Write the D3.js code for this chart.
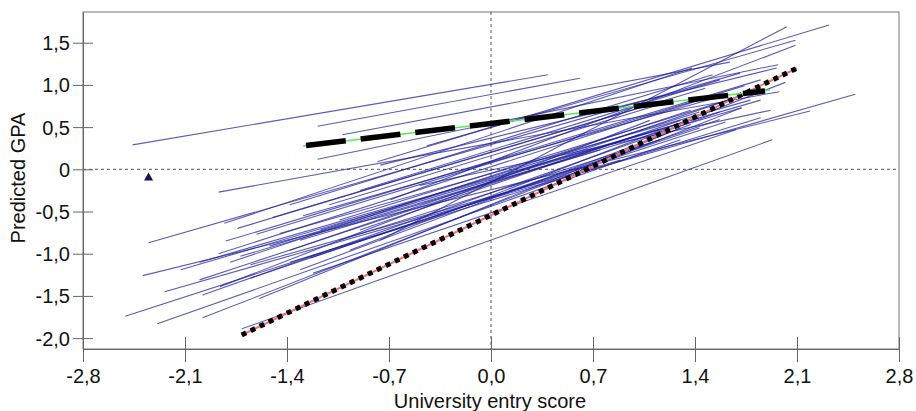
<!DOCTYPE html>
<html>
<head>
<meta charset="utf-8">
<script src="https://cdn.jsdelivr.net/npm/d3@7/dist/d3.min.js"></script>
<style>
  html, body { margin: 0; padding: 0; background: #fff; }
  svg { display: block; }
  text { font-family: "Liberation Sans", Arial, sans-serif; fill: #111; }
</style>
</head>
<body>
<svg id="chart" width="916" height="411"></svg>
<script>
// ---- data ----
const xTicks = [-2.8, -2.1, -1.4, -0.7, 0.0, 0.7, 1.4, 2.1, 2.8];
const xTickLabels = ["-2,8", "-2,1", "-1,4", "-0,7", "0,0", "0,7", "1,4", "2,1", "2,8"];
const yTicks = [-2.0, -1.5, -1.0, -0.5, 0, 0.5, 1.0, 1.5];
const yTickLabels = ["-2,0", "-1,5", "-1,0", "-0,5", "0", "0,5", "1,0", "1,5"];
const xTitle = "University entry score";
const yTitle = "Predicted GPA";

// individual regression lines: start x, start y, end x, end y
const lineX1 = [-2.46, -1.19, -1.02, -1.19, -0.44, -0.78, -0.76, -1.87, -2.35, -0.76, -0.69, -1.83, -1.74, -1.61, -1.82, -1.50, -1.29, -1.11, -1.45, -1.87, -1.72, -2.39, -1.38, -1.86, -2.24, -1.31, -1.98, -1.22, -2.51, -1.59, -1.98, -2.29, -1.71, -0.97, -0.90, -0.49, -1.31, -1.65, -1.38, -2.13, -1.52, -2.00, -1.17, -1.04, -1.79, -1.38, -1.24, -1.65, -2.00, -1.04, -0.90];
const lineY1 = [0.29, 0.51, 0.41, 0.12, 0.28, 0.09, 0.05, -0.27, -0.87, -0.84, -0.36, -0.64, -0.70, -0.77, -0.85, -0.57, -0.55, -0.42, -0.76, -1.00, -1.03, -1.26, -1.10, -1.39, -1.45, -1.19, -1.49, -1.23, -1.74, -1.53, -1.76, -1.83, -1.89, -0.96, -0.25, -0.19, -0.84, -1.13, -0.42, -1.19, -0.91, -1.10, -0.72, -0.60, -1.10, -0.96, -1.05, -1.29, -1.31, -0.84, -0.72];
const lineX2 = [0.39, 0.61, 1.64, 1.97, 2.09, 2.32, 1.96, 1.98, 1.71, 2.03, 2.09, 1.38, 1.47, 1.74, 1.85, 1.02, 1.61, 1.22, 1.78, 1.43, 1.72, 2.19, 1.85, 1.09, 2.50, 1.37, 1.57, 1.68, 1.61, 1.30, 1.72, 1.30, 1.93, 2.02, 1.57, 1.92, 0.75, 0.89, 1.52, 1.43, 1.16, 1.85, 1.43, 1.85, 1.37, 1.71, 1.43, 1.57, 1.02, 1.16, 1.30];
const lineY2 = [1.12, 1.08, 1.27, 1.24, 1.53, 1.71, 1.20, 0.92, 1.14, 1.69, 1.47, 1.20, 0.96, 0.99, 1.06, 0.73, 0.88, 0.80, 0.82, 0.82, 0.73, 0.69, 0.61, 0.58, 0.89, 0.53, 0.68, 0.47, 0.56, 0.49, 0.73, 0.35, 0.35, 1.03, 1.06, 0.70, 0.23, 0.11, 1.12, 0.61, 0.47, 0.82, 0.68, 0.94, 0.70, 0.87, 0.49, 0.59, 0.41, 0.35, 0.58];

// average lines
const dashedX = [-1.29, 1.915];
const dashedY = [0.276, 0.94];
const dottedX = [-1.711, 2.098];
const dottedY = [-1.963, 1.197];

// single marker
const markerX = [-2.35];
const markerY = [-0.10];

// ---- chart ----
const svg = d3.select("#chart");
const x = d3.scaleLinear().domain([-2.8, 2.8]).range([83, 899]);
const y = d3.scaleLinear().domain([-2.129, 1.864]).range([349, 12]);

// frame
svg.append("rect")
  .attr("x", x(-2.8)).attr("y", y(1.864))
  .attr("width", x(2.8) - x(-2.8)).attr("height", y(-2.129) - y(1.864))
  .attr("fill", "none").attr("stroke", "#777").attr("stroke-width", 1);

// zero reference lines
svg.append("line")
  .attr("x1", x(-2.8)).attr("x2", x(2.8)).attr("y1", y(0)).attr("y2", y(0))
  .attr("stroke", "#555").attr("stroke-width", 1).attr("stroke-dasharray", "3,3");
svg.append("line")
  .attr("x1", x(0)).attr("x2", x(0)).attr("y1", y(1.864)).attr("y2", y(-2.129))
  .attr("stroke", "#555").attr("stroke-width", 1).attr("stroke-dasharray", "3,3");

// individual lines
const lines = lineX1.map((d, i) => ({ x1: d, y1: lineY1[i], x2: lineX2[i], y2: lineY2[i] }));
svg.append("g").selectAll("line").data(lines).join("line")
  .attr("x1", d => x(d.x1)).attr("y1", d => y(d.y1))
  .attr("x2", d => x(d.x2)).attr("y2", d => y(d.y2))
  .attr("stroke", "#1c1c9a").attr("stroke-opacity", 0.72).attr("stroke-width", 1.1);

// dotted line (red underlay + black squares)
svg.append("line")
  .attr("x1", x(dottedX[0])).attr("y1", y(dottedY[0]))
  .attr("x2", x(dottedX[1])).attr("y2", y(dottedY[1]))
  .attr("stroke", "#ff6b6b").attr("stroke-width", 2);
svg.append("line")
  .attr("x1", x(dottedX[0])).attr("y1", y(dottedY[0]))
  .attr("x2", x(dottedX[1])).attr("y2", y(dottedY[1]))
  .attr("stroke", "#000").attr("stroke-width", 5).attr("stroke-dasharray", "5,5");

// dashed line (green underlay + black dashes)
svg.append("line")
  .attr("x1", x(dashedX[0])).attr("y1", y(dashedY[0]))
  .attr("x2", x(dashedX[1])).attr("y2", y(dashedY[1]))
  .attr("stroke", "#55ee55").attr("stroke-width", 1.5);
svg.append("line")
  .attr("x1", x(dashedX[0]) + 3).attr("y1", y(dashedY[0]) - 0.6)
  .attr("x2", x(dashedX[1]) - 5).attr("y2", y(dashedY[1]) + 1)
  .attr("stroke", "#000").attr("stroke-width", 5.5).attr("stroke-dasharray", "40,15");

// marker
svg.append("g").selectAll("path").data(markerX.map((d, i) => [d, markerY[i]])).join("path")
  .attr("d", d3.symbol(d3.symbolTriangle, 36))
  .attr("transform", d => `translate(${x(d[0])},${y(d[1])})`)
  .attr("fill", "#14145a");

// x axis
const xAxis = svg.append("g").attr("transform", `translate(0,${y(-2.129)})`)
  .call(d3.axisBottom(x).tickValues(xTicks).tickSize(0).tickPadding(0)
        .tickFormat((d, i) => xTickLabels[i]));
xAxis.select(".domain").attr("stroke", "#666");
xAxis.selectAll(".tick line").attr("y1", -12).attr("y2", 13).attr("stroke", "#666");
xAxis.selectAll(".tick text").attr("y", 34).attr("dy", 0)
  .style("font-size", "20px").style("font-family", "'Liberation Sans', Arial, sans-serif").attr("fill", "#111");

// y axis
const yAxis = svg.append("g").attr("transform", `translate(${x(-2.8)},0)`)
  .call(d3.axisLeft(y).tickValues(yTicks).tickSize(0).tickPadding(0)
        .tickFormat((d, i) => yTickLabels[i]));
yAxis.select(".domain").attr("stroke", "#666");
yAxis.selectAll(".tick line").attr("x1", -10).attr("x2", 10).attr("stroke", "#666");
yAxis.selectAll(".tick text").attr("x", -13).attr("dy", "0.35em")
  .style("font-size", "20px").style("font-family", "'Liberation Sans', Arial, sans-serif").attr("fill", "#111");

// titles
svg.append("text").attr("x", 490).attr("y", 408).attr("text-anchor", "middle")
  .style("font-size", "20px").text(xTitle);
svg.append("text").attr("transform", "translate(25,178) rotate(-90)").attr("text-anchor", "middle")
  .style("font-size", "20px").text(yTitle);
</script>
</body>
</html>
